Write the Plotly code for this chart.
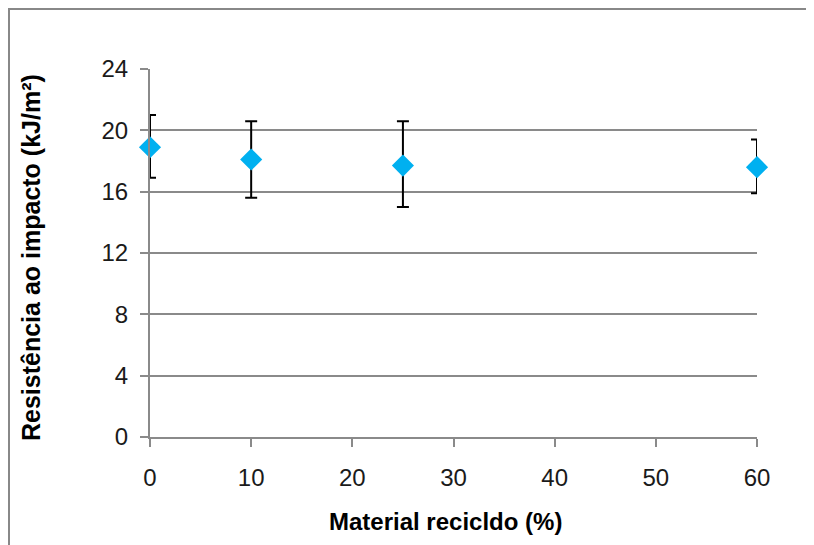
import plotly.graph_objects as go

# Data
recycled_pct = [0, 10, 25, 60]
impact = [18.9, 18.1, 17.7, 17.6]
impact_hi = [21.0, 20.6, 20.6, 19.4]
impact_lo = [16.9, 15.6, 15.0, 15.9]

x_ticks = [0, 10, 20, 30, 40, 50, 60]
y_ticks = [0, 4, 8, 12, 16, 20, 24]

err_plus = [h - v for h, v in zip(impact_hi, impact)]
err_minus = [v - l for v, l in zip(impact, impact_lo)]

grid = "#8a8a8a"
tick_font = dict(family="Liberation Sans, Arial, sans-serif", size=24, color="#1a1a1a")

# page has an 8px body margin; plot area in page pixels: x 150..757, y 69..437
W, H = 806, 537
PL, PR, PT, PB = 150, 757, 69, 437
PW, PH = PR - PL, PB - PT


def px(xp):
    return (xp - PL) / PW


def py(yp):
    return (PB - yp) / PH


fig = go.Figure()
# error bars (clipped to plot area like the original)
fig.add_trace(go.Scatter(
    x=recycled_pct, y=impact, mode="markers",
    marker=dict(size=1, opacity=0),
    error_y=dict(type="data", symmetric=False, array=err_plus, arrayminus=err_minus,
                 color="black", thickness=2, width=6),
    cliponaxis=True, showlegend=False, hoverinfo="skip"))
# diamond markers
fig.add_trace(go.Scatter(
    x=recycled_pct, y=impact, mode="markers",
    marker=dict(symbol="diamond", size=17, color="#00B0F0", line=dict(width=0)),
    cliponaxis=False, showlegend=False))

frame = dict(color="#888888", width=2)
fig.update_layout(
    width=W, height=H,
    margin=dict(l=PL - 8, r=W + 8 - PR, t=PT - 8, b=H + 8 - PB),
    paper_bgcolor="white", plot_bgcolor="white",
    xaxis=dict(range=[0, 60], tickvals=x_ticks, ticktext=[str(v) for v in x_ticks],
               showgrid=False, zeroline=False, showline=True, linecolor=grid, linewidth=2,
               ticks="outside", ticklen=8, tickwidth=2, tickcolor=grid,
               tickfont=tick_font, ticklabelstandoff=10),
    yaxis=dict(range=[0, 24], tickvals=y_ticks, ticktext=[str(v) for v in y_ticks],
               showgrid=True, gridcolor=grid, gridwidth=2, zeroline=False,
               showline=True, linecolor=grid, linewidth=2,
               ticks="outside", ticklen=8, tickwidth=2, tickcolor=grid,
               tickfont=tick_font, ticklabelstandoff=7),
    shapes=[
        dict(type="line", xref="paper", yref="paper",
             x0=px(9), x1=px(9), y0=py(700), y1=py(8), line=frame, layer="below"),
        dict(type="line", xref="paper", yref="paper",
             x0=px(8), x1=px(900), y0=py(9), y1=py(9), line=frame, layer="below"),
    ],
    annotations=[
        dict(text="Material recicldo (%)", xref="paper", yref="paper",
             x=px(445), y=py(521), showarrow=False,
             xanchor="center", yanchor="middle",
             font=dict(family="Liberation Sans, Arial, sans-serif",
                       size=24, color="black", weight="bold")),
        dict(text="Resistência ao impacto (kJ/m²)", xref="paper", yref="paper",
             x=px(31), y=py(258), showarrow=False, textangle=-90,
             xanchor="center", yanchor="middle",
             font=dict(family="Liberation Sans, Arial, sans-serif",
                       size=25, color="black", weight="bold")),
    ],
)

fig.write_html(
    "out.html",
    config={"displayModeBar": False},
    post_script="document.documentElement.style.overflow='hidden';"
                "document.body.style.overflow='hidden';",
)
